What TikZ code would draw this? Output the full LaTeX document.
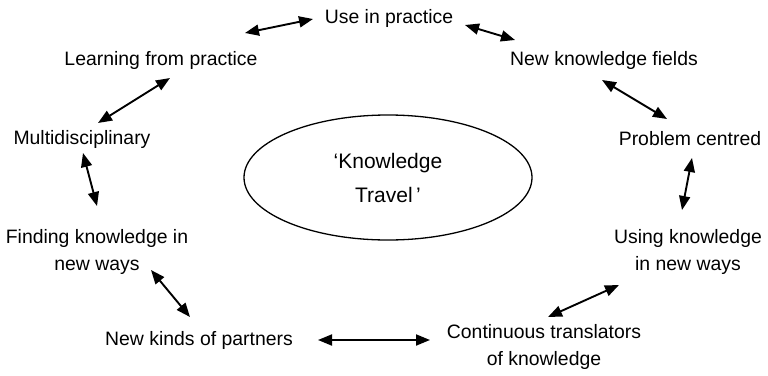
\documentclass[tikz,border=0pt]{standalone}
\usepackage{fontspec}
\setmainfont{Liberation Sans}
\usetikzlibrary{shapes.geometric, arrows.meta}

\tikzset{
    idea/.style={inner sep=0pt, align=center},
    link/.style={<->, line width=1.9pt}
}

\begin{document}
\begin{tikzpicture}[x=1pt, y=-1pt, >={Triangle[length=14pt,width=11pt]},
    font=\fontsize{19.4}{27}\selectfont]
    \useasboundingbox (0,0) rectangle (768,375);
    \node (use) [idea] at (389,18) {Use in practice};
    \node (learn) [idea] at (161,60) {Learning from practice};
    \node (newfields) [idea] at (604,60) {New knowledge fields};
    \node (multi) [idea] at (82,139) {Multidisciplinary};
    \node (problem) [idea] at (690,139) {Problem centred};
    \node (travel) [draw, ellipse, line width=1.3pt, minimum width=288pt, minimum height=125pt, inner sep=0pt, align=center,
        font=\fontsize{21}{34}\selectfont] at (388,177.5) {‘Knowledge\\Travel\,’};
    \node (finding) [idea] at (97,252) {Finding knowledge in\\new ways};
    \node (using) [idea] at (688,252) {Using knowledge\\in new ways};
    \node (partners) [idea] at (199,340) {New kinds of partners};
    \node (translators) [idea] at (544,347) {Continuous translators\\of knowledge};

    \draw [link] ([shift={(84,-27)}]learn.center) -- ([shift={(-76,1)}]use.center);
    \draw [link] ([shift={(76,7)}]use.center) -- ([shift={(-89,-20)}]newfields.center);
    \draw [link] ([shift={(-2,20)}]newfields.center) -- ([shift={(-23,-20)}]problem.center);
    \draw [link] ([shift={(2,19)}]problem.center) -- ([shift={(-6,-42)}]using.center);
    \draw [link] ([shift={(-69,33)}]using.center) -- ([shift={(4,-30)}]translators.center);
    \draw [link] ([shift={(119,0)}]partners.center) -- ([shift={(-114,-7)}]translators.center);
    \draw [link] ([shift={(54,18)}]finding.center) -- ([shift={(-9,-23)}]partners.center);
    \draw [link] ([shift={(1,14)}]multi.center) -- ([shift={(0,-46)}]finding.center);
    \draw [link] ([shift={(9,18)}]learn.center) -- ([shift={(16,-16)}]multi.center);
\end{tikzpicture}
\end{document}
